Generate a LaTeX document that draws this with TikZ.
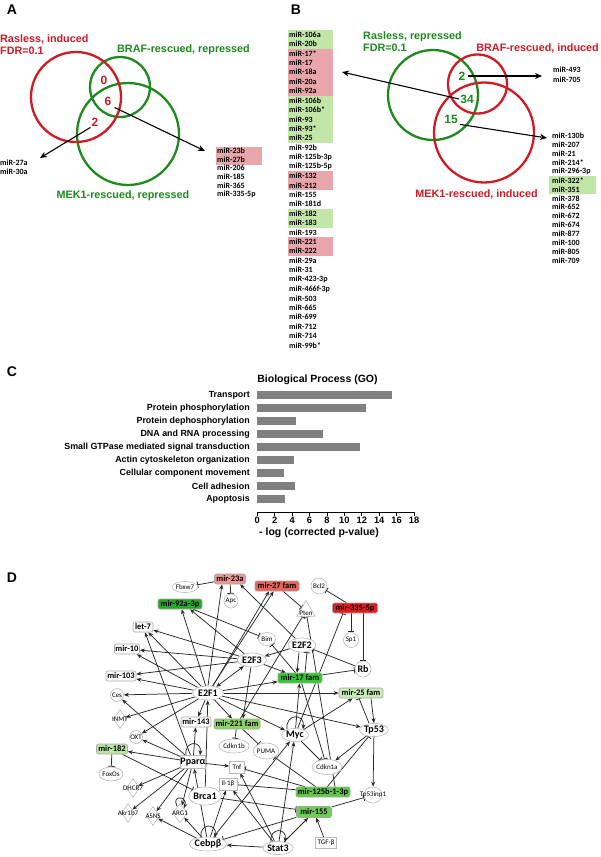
\documentclass[tikz,border=0pt]{standalone}
\usepackage{fontspec}
\setmainfont{Liberation Sans}
\newfontfamily\calfont{Carlito}
\usetikzlibrary{arrows.meta,shapes.geometric,calc}
\pgfdeclarelayer{bg}
\pgfdeclarelayer{paper}
\pgfsetlayers{paper,bg,main}
\definecolor{vred}{RGB}{208,26,36}
\definecolor{vgreen}{RGB}{30,138,30}
\definecolor{pinkbg}{RGB}{232,166,170}
\definecolor{greenbg}{RGB}{194,229,168}
\definecolor{bargray}{RGB}{128,128,128}
\definecolor{edgec}{RGB}{40,40,40}
\definecolor{c23a}{RGB}{240,150,150}
\definecolor{c27}{RGB}{232,100,90}
\definecolor{c335}{RGB}{226,28,28}
\definecolor{c92}{RGB}{40,168,40}
\definecolor{c17}{RGB}{48,200,48}
\definecolor{c25}{RGB}{200,236,180}
\definecolor{c221}{RGB}{140,212,100}
\definecolor{c182}{RGB}{188,230,168}
\definecolor{c125}{RGB}{96,200,70}
\definecolor{c155}{RGB}{108,206,80}
\newcommand{\mylistbox}[3]{\fill[#1] (287.5,{34.5+#2*9.42-4.7}) rectangle (333,{34.5+#3*9.42+4.7});}
\begin{document}
\begin{tikzpicture}[x=1pt,y=-1pt,
  panel/.style={font=\fontsize{14}{14}\selectfont\bfseries, inner sep=0pt},
  vlab/.style={font=\fontsize{10.8}{12}\selectfont\bfseries, inner sep=0pt},
  vnum/.style={font=\fontsize{12}{12}\selectfont\bfseries, inner sep=0pt},
  venn/.style={line width=2.3pt},
  lst/.style={font=\calfont\fontsize{8}{8}\selectfont\bfseries, inner sep=0pt, anchor=west},
  varr/.style={line width=1.1pt, -{Stealth[length=7pt,width=6pt]}},
  clab/.style={font=\fontsize{8.9}{9}\selectfont\bfseries, inner sep=0pt, anchor=east},
  tick/.style={font=\fontsize{9.3}{9.5}\selectfont\bfseries, inner sep=0pt},
  shp/.style={draw=gray!55, fill=white, line width=0.6pt, inner sep=0pt},
  gene/.style={shp, ellipse},
  gt/.style={font=\calfont\fontsize{7}{7}\selectfont},
  hub/.style={font=\calfont\fontsize{10}{10}\selectfont\bfseries},
  mir/.style={draw=gray!70, line width=0.6pt, rounded corners=2pt, inner sep=0pt, minimum height=10pt, font=\calfont\fontsize{8.5}{8.5}\selectfont\bfseries},
  dia/.style={shp, diamond, minimum width=13pt, minimum height=19pt},
  act/.style={draw=edgec, line width=0.75pt, -{Stealth[length=5pt,width=4pt]}},
  bi/.style={draw=edgec, line width=0.75pt, {Stealth[length=5pt,width=4pt]}-{Stealth[length=5pt,width=4pt]}},
  inh/.style={draw=edgec, line width=0.75pt, -{Bar[width=6.5pt,line width=0.8pt]}}
]
\useasboundingbox (0,0) rectangle (600,857);
\begin{pgfonlayer}{paper}
\fill[white] (0,0) rectangle (600,857);
\end{pgfonlayer}

% ---------------- Panel A ----------------
\node[panel] (LA) at (12,10) {A};
\draw[vgreen, venn] (120,87) circle[radius=30pt];
\draw[vgreen, venn] (128,134) circle[radius=51pt];
\draw[vred, venn] (76,97) circle[radius=45pt];
\node[vlab, vred, anchor=west] (Ar1) at (0,39) {Rasless, induced};
\node[vlab, vred, anchor=west] (Ar2) at (0,51) {FDR=0.1};
\node[vlab, vgreen, anchor=west] (Ab) at (117,50) {BRAF-rescued, repressed};
\node[vlab, vgreen] (Am) at (123,196) {MEK1-rescued, repressed};
\node[vnum, vred] (A0) at (104,80) {0};
\node[vnum, vred] (A6) at (108,101) {6};
\node[vnum, vred] (A2) at (95,122) {2};
\coordinate (A6end) at (205,151);
\coordinate (A2end) at (40,158);
\draw[varr] ([shift={(3,2)}]A6.south east) -- (A6end);
\draw[varr] ([shift={(-1,1)}]A2.south west) -- (A2end);
\fill[pinkbg] (215.5,146.5) rectangle (262,164.5);
\foreach \t [count=\i from 0] in {miR-23b,miR-27b,miR-206,miR-185,miR-365,miR-335-5p}
  \node[lst] (ar\i) at (217,{151+\i*8.6}) {\t};
\node[lst] (al0) at (0,163) {miR-27a};
\node[lst] (al1) at (0,172) {miR-30a};

% ---------------- Panel B ----------------
\node[panel] (LB) at (296,10) {B};
\mylistbox{greenbg}{0}{1}
\mylistbox{pinkbg}{2}{6}
\mylistbox{greenbg}{7}{11}
\mylistbox{pinkbg}{15}{16}
\mylistbox{greenbg}{19}{20}
\mylistbox{pinkbg}{22}{23}
\foreach \t [count=\i from 0] in {miR-106a,miR-20b,miR-17*,miR-17,miR-18a,miR-20a,miR-92a,miR-106b,miR-106b*,miR-93,miR-93*,miR-25,miR-92b,miR-125b-3p,miR-125b-5p,miR-132,miR-212,miR-155,miR-181d,miR-182,miR-183,miR-193,miR-221,miR-222,miR-29a,miR-31,miR-423-3p,miR-466f-3p,miR-503,miR-665,miR-699,miR-712,miR-714,miR-99b*}
  \node[lst] (bl\i) at (289,{34.5+\i*9.42}) {\t};
\draw[vgreen, venn] (433,95) circle[radius=45pt];
\draw[vred, venn] (477.5,84) circle[radius=29.5pt];
\draw[vred, venn] (484,132.5) circle[radius=50pt];
\node[vlab, vgreen, anchor=west] (Bg1) at (363,37) {Rasless, repressed};
\node[vlab, vgreen, anchor=west] (Bg2) at (363,48) {FDR=0.1};
\node[vlab, vred, anchor=east] (Bb) at (599,48) {BRAF-rescued, induced};
\node[vlab, vred, anchor=east] (Bm) at (538,194) {MEK1-rescued, induced};
\node[vnum, vgreen] (B2) at (462,76) {2};
\node[vnum, vgreen] (B34) at (467,99) {34};
\node[vnum, vgreen] (B15) at (451,119) {15};
\coordinate (B2end) at (542,76);
\coordinate (B34end) at (342,72);
\coordinate (B15end) at (547,138);
\draw[varr] ([xshift=2]B2.east) -- (B2end);
\draw[varr] ([xshift=-1]B34.west) -- (B34end);
\draw[varr] ([shift={(2,1)}]B15.south east) -- (B15end);
\node[lst] (bt0) at (553,70) {miR-493};
\node[lst] (bt1) at (553,80) {miR-705};
\fill[greenbg] (549,176) rectangle (596,194);
\foreach \t [count=\i from 0] in {miR-130b,miR-207,miR-21,miR-214*,miR-296-3p,miR-322*,miR-351,miR-378,miR-652,miR-672,miR-674,miR-877,miR-100,miR-805,miR-709}
  \node[lst] (br\i) at (552,{136+\i*8.9}) {\t};

% ---------------- Panel C ----------------
\node[panel] (LC) at (12,372) {C};
\node[font=\fontsize{10.5}{11}\selectfont\bfseries, inner sep=0pt] (Ct) at (317.5,380) {Biological Process (GO)};
\foreach \lab/\v [count=\i from 0] in {Transport/15.5,Protein phosphorylation/12.5,Protein dephosphorylation/4.4,DNA and RNA processing/7.5,Small GTPase mediated signal transduction/11.8,Actin cytoskeleton organization/4.2,Cellular component movement/3.1,Cell adhesion/4.3,Apoptosis/3.2}
{
  \node[clab] (cl\i) at (250,{395+\i*13}) {\lab};
  \fill[bargray] (257.3,{395+\i*13-4.3}) rectangle ({257.3+\v*8.71},{395+\i*13+4.3});
}
\draw[line width=0.9pt] (257.3,512) -- (414.1,512);
\foreach \k in {0,2,...,18}
{
  \draw[line width=0.9pt] ({257.3+\k*8.71},512) -- ({257.3+\k*8.71},516);
  \node[tick] (ct\k) at ({257.3+\k*8.71},520) {\k};
}
\node[tick, font=\fontsize{10.5}{11}\selectfont\bfseries] (Cx) at (319,532.5) {- log (corrected p-value)};

% ---------------- Panel D ----------------
\node[panel] (LD) at (12,578) {D};
% miRNA nodes
\node[mir, fill=c23a, minimum width=31pt] (mir23a) at (230,579) {mir-23a};
\node[mir, fill=c27, minimum width=44pt] (mir27) at (277,586) {mir-27 fam};
\node[mir, fill=c335, minimum width=45pt] (mir335) at (355,608) {mir-335-5p};
\node[mir, fill=c92, minimum width=44pt] (mir92) at (180,604) {mir-92a-3p};
\node[mir, fill=white, minimum width=20pt] (let7) at (143,627) {let-7};
\node[mir, fill=white, minimum width=25pt] (mir10) at (127,649) {mir-10};
\node[mir, fill=white, minimum width=30pt] (mir103) at (121,676) {mir-103};
\node[mir, fill=c17, minimum width=44pt] (mir17) at (300,678) {mir-17 fam};
\node[mir, fill=c25, minimum width=44pt] (mir25) at (361,693) {mir-25 fam};
\node[mir, fill=white, minimum width=30pt] (mir143) at (196,722) {mir-143};
\node[mir, fill=c221, minimum width=46pt] (mir221) at (237,724) {mir-221 fam};
\node[mir, fill=c182, minimum width=31pt] (mir182) at (112,749) {mir-182};
\node[mir, fill=c125, minimum width=54pt] (mir125) at (323,792) {mir-125b-1-3p};
\node[mir, fill=c155, minimum width=35pt, minimum height=11pt] (mir155) at (314,812) {mir-155};
% genes
\node[gene, gt, minimum width=20pt, minimum height=11pt] (Fbxw7) at (185,587) {Fbxw7};
\node[gene, gt, circle, minimum size=14pt] (Apc) at (231,601) {Apc};
\node[gene, gt, circle, minimum size=16pt] (Bcl2) at (319,586) {Bcl2};
\node[shp, regular polygon, regular polygon sides=3, minimum size=21pt, label={[gt,yshift=-2pt]center:Pten}] (Pten) at (306,611) {};
\node[gene, gt, minimum width=17pt, minimum height=13pt] (Bim) at (267,639) {Bim};
\node[gene, gt, circle, minimum size=15pt] (Sp1) at (351,640) {Sp1};
\node[gene, hub, minimum width=27pt, minimum height=14pt] (E2F2) at (302,645) {E2F2};
\node[gene, hub, minimum width=29pt, minimum height=14pt] (E2F3) at (252,660) {E2F3};
\node[gene, hub, circle, minimum size=16pt] (Rb) at (363,669) {Rb};
\node[gene, hub, minimum width=31pt, minimum height=14pt] (E2F1) at (208,693) {E2F1};
\node[gene, gt, circle, minimum size=13pt] (Ces) at (117,695) {Ces};
\node[dia, label={[gt]center:INMT}] (INMT) at (120,719) {};
\node[gene, hub, minimum width=29pt, minimum height=13pt] (Tp53) at (374,730) {Tp53};
\node[gene, hub, minimum width=27pt, minimum height=13pt] (Myc) at (295,735) {Myc};
\node[gene, gt, circle, minimum size=13pt] (OXT) at (136,737) {OXT};
\node[gene, gt, minimum width=22pt, minimum height=14pt] (Cdkn1b) at (234,746) {Cdkn1b};
\node[gene, gt, minimum width=19pt, minimum height=16pt] (PUMA) at (266,751) {PUMA};
\node[shp, hub, rectangle, minimum width=23pt, minimum height=13pt] (Ppara) at (193,762) {Pparα};
\node[shp, gt, rectangle, minimum width=15pt, minimum height=12pt] (Tnf) at (237,767) {Tnf};
\node[gene, gt, minimum width=20pt, minimum height=15pt] (Cdkn1a) at (327,767) {Cdkn1a};
\node[gene, gt, minimum width=24pt, minimum height=14pt] (FoxOs) at (111,774) {FoxOs};
\node[shp, gt, rectangle, minimum width=18pt, minimum height=12pt] (Il1b) at (228,784) {Il-1β};
\node[dia, label={[gt]center:DHCR7}] (DHCR7) at (133,788) {};
\node[gene, minimum width=18pt, minimum height=16pt, label={[gt]center:Tp53inp1}] (Tp53inp1) at (373,795) {};
\node[gene, hub, minimum width=20pt, minimum height=18pt] (Brca1) at (205,796) {Brca1};
\node[dia, label={[gt]center:Akr1b7}] (Akr1b7) at (128,813) {};
\node[dia, label={[gt]center:ASNS}] (ASNS) at (153,816) {};
\node[dia, minimum width=15pt, label={[gt]center:ARG1}] (ARG1) at (180,813) {};
\node[shp, gt, rectangle, minimum width=21pt, minimum height=11pt] (TGFb) at (326,843) {TGF-β};
\node[gene, hub, minimum width=31pt, minimum height=14pt] (Cebpb) at (208,844) {Cebpβ};
\node[gene, hub, minimum width=29pt, minimum height=13pt] (Stat3) at (278,848) {Stat3};

\begin{pgfonlayer}{bg}
% activations
\draw[act] (E2F1.north) -- ([xshift=-8pt]mir23a.south);
\draw[act] (E2F1) -- (mir27);
\draw[act] ([xshift=5pt]E2F1.north) -- ([xshift=-8pt]mir27.south);
\draw[act] (E2F2) -- ([xshift=10pt]mir23a.south);
\draw[act] (E2F1) -- (mir92);
\draw[act] (E2F3) -- ([xshift=10pt]mir92.south);
\draw[act] (E2F1) -- (let7);
\draw[act] (E2F3) -- (let7);
\draw[act] (E2F1) -- (mir10);
\draw[act] (E2F3) -- (mir10);
\draw[act] (E2F1) -- (mir103);
\draw[act] (E2F3) -- (mir103);
\draw[act] (E2F1) -- (Ces);
\draw[act] (E2F1) -- (INMT);
\draw[act] (E2F1) -- (OXT);
\draw[act] (E2F1) -- (mir143);
\draw[act] (E2F1) -- (mir221);
\draw[act] (E2F3) -- ([xshift=6pt]mir221.north);
\draw[act] (E2F1) -- (Myc);
\draw[act] (E2F1) -- (mir17);
\draw[act] (E2F3) -- (mir17);
\draw[act] (E2F2) -- (E2F3);
\draw[act] ([xshift=-3pt]E2F2.south) -- ([xshift=-3pt]mir17.north);
\draw[act] (E2F1) -- (mir25);
\draw[act] (E2F1) -- (Tp53);
\draw[bi] (E2F1) -- (E2F3);
\draw[act] (Myc) -- (mir17);
\draw[act] (Myc) -- (mir25);
\draw[act] ([xshift=10pt]mir25.south) -- (Tp53.north);
\draw[act] (Tp53) -- (Cdkn1a);
\draw[act] (Tp53) -- (Tp53inp1);
\draw[act] (TGFb) -- (mir155);
\draw[act] (Stat3) -- (mir155);
\draw[act] (Stat3) -- (Myc);
\draw[act] (Stat3) -- (Cebpb);
\draw[act] (Stat3) -- (Tnf);
\draw[act] (Stat3) -- (Il1b);
\draw[act] (Cebpb) -- (Myc);
\draw[act] (Cebpb) -- (Il1b);
\draw[act] (Cebpb) -- (Ppara);
\draw[act] (Cebpb) -- (ASNS);
\draw[act] (Cebpb) -- (ARG1);
\draw[act] (Brca1) -- (E2F1);
\draw[act] (Ppara) -- (mir143);
\draw[act] (Ppara) -- (mir182);
\draw[act] (Ppara) -- (Ces);
\draw[act] (Ppara) -- (OXT);
\draw[act] (Ppara) -- (DHCR7);
\draw[act] (Ppara) -- (Akr1b7);
\draw[act] (Ppara) -- (ASNS);
\draw[act] (Ppara) -- (ARG1);
\draw[act] (Ppara) -- (Tnf);
\draw[act] (Ppara) -- (let7);
% inhibitions
\draw[inh] (mir23a) -- (Fbxw7);
\draw[inh] (mir23a) -- (Apc);
\draw[inh] (mir27) -- (Pten);
\draw[inh] (mir92) -- (Bim);
\draw[inh] (mir335) -- (Bcl2);
\draw[inh] ([xshift=-4pt]mir335.south) -- (Sp1);
\draw[inh] ([xshift=8pt]mir335.south) -- (Rb);
\draw[inh] (Rb) -- (E2F2);
\draw[inh] (mir17) -- (Rb);
\draw[inh] ([xshift=5pt]mir17.north) -- ([xshift=5pt]E2F2.south);
\draw[inh] (mir17) -- (Bim);
\draw[inh] (mir17) -- (Cdkn1a);
\draw[inh] (mir221) -- (Pten);
\draw[inh] ([xshift=12pt]mir125.north) -- (Pten);
\draw[inh] (Myc) -- ([xshift=-12pt]mir335.south);
\draw[inh] (Myc) -- (Cdkn1a);
\draw[inh] ([xshift=-5pt]Tp53.north) -- ([xshift=-2pt]mir25.south);
\draw[inh] (mir125) -- (Tp53);
\draw[inh] (mir155) -- (Tp53inp1);
\draw[inh] (mir221) -- (Cdkn1b);
\draw[inh] (mir221) -- (PUMA);
\draw[inh] (mir125) -- (PUMA);
\draw[inh] (mir125) -- (Tnf);
\draw[inh] (mir125) -- (Il1b);
\draw[inh] (Brca1) -- (mir155);
\draw[inh] (mir155) -- (Cebpb);
\draw[inh] (mir182) -- (FoxOs);
\draw[inh] (mir182) -- (Brca1);
\end{pgfonlayer}
% self loops
\draw[act] ([xshift=-8pt,yshift=-1pt]Myc.north) .. controls +(-2,-16) and +(2,-16) .. ([xshift=8pt,yshift=-1pt]Myc.north);
\draw[act] ([xshift=-7pt]Ppara.north) .. controls +(-2,-15) and +(2,-15) .. ([xshift=7pt]Ppara.north);
\draw[act] ([xshift=-3pt,yshift=-3pt]ARG1.north) .. controls +(-6,-12) and +(4,-12) .. ([xshift=4pt,yshift=-5pt]ARG1.north);
\draw[act] ([xshift=-7pt,yshift=-1pt]Cebpb.north) .. controls +(-2,-15) and +(2,-15) .. ([xshift=7pt,yshift=-1pt]Cebpb.north);
\draw[act] ([xshift=-7pt,yshift=-1pt]Stat3.north) .. controls +(-2,-15) and +(2,-15) .. ([xshift=7pt,yshift=-1pt]Stat3.north);
\end{tikzpicture}
\end{document}
